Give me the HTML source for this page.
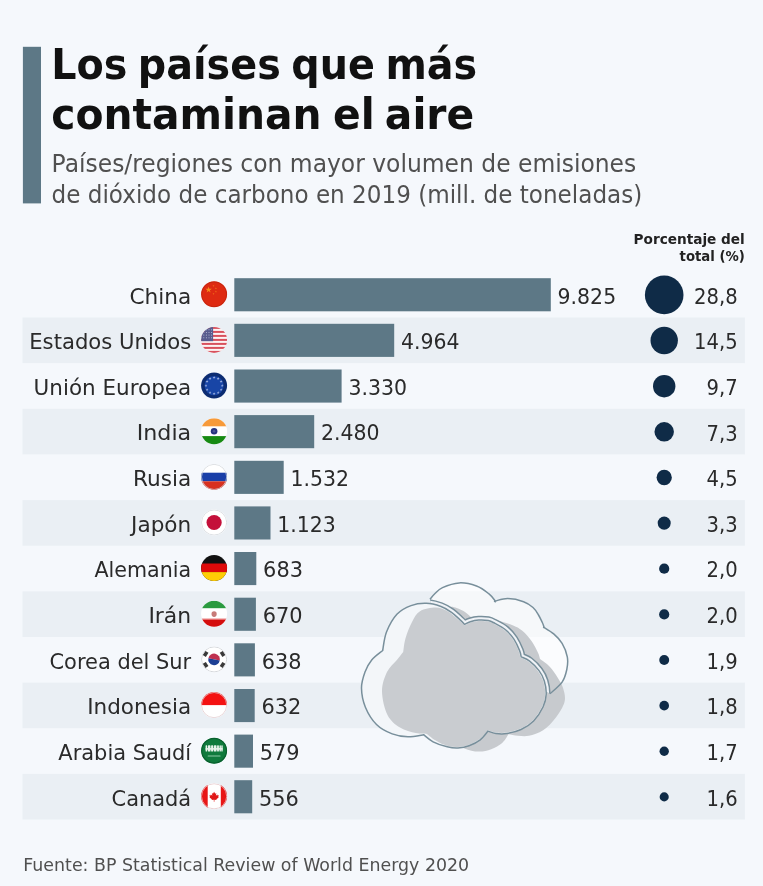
<!DOCTYPE html>
<html lang="es">
<head>
<meta charset="utf-8">
<title>Los países que más contaminan el aire</title>
<style>html,body{margin:0;padding:0;background:#f5f8fc;overflow:hidden}svg{display:block}</style>
</head>
<body>
<svg width="763" height="886" viewBox="0 0 763 886" font-family="'DejaVu Sans', 'Liberation Sans', sans-serif">
<defs><clipPath id="fc"><circle r="13"/></clipPath></defs><rect width="763" height="886" fill="#f5f8fc"/>
<rect x="22.5" y="317.5" width="722.4" height="45.6" fill="#eaeff4"/>
<rect x="22.5" y="408.8" width="722.4" height="45.6" fill="#eaeff4"/>
<rect x="22.5" y="500.1" width="722.4" height="45.6" fill="#eaeff4"/>
<rect x="22.5" y="591.4" width="722.4" height="45.6" fill="#eaeff4"/>
<rect x="22.5" y="682.6" width="722.4" height="45.6" fill="#eaeff4"/>
<rect x="22.5" y="773.9" width="722.4" height="45.6" fill="#eaeff4"/>
<rect x="22.9" y="46.8" width="18.1" height="156.6" fill="#5d7886"/>
<text transform="translate(51.2,79.3) scale(1.0255,1)" font-size="43" font-weight="bold" fill="#111" font-family="'DejaVu Sans Condensed', 'Liberation Sans', sans-serif">Los <tspan dx="-3.2">países</tspan> <tspan dx="-3.2">que</tspan> <tspan dx="-3.2">más</tspan></text>
<text transform="translate(51.2,129.3) scale(1.055,1)" font-size="43" font-weight="bold" fill="#111" font-family="'DejaVu Sans Condensed', 'Liberation Sans', sans-serif">contaminan <tspan dx="-2.6">el</tspan> <tspan dx="-3.9">aire</tspan></text>
<text transform="translate(51.6,172) scale(0.9764,1)" font-size="24" text-anchor="start" font-weight="normal" fill="#505050">Países/regiones con mayor volumen de emisiones</text>
<text transform="translate(51.6,202.9) scale(0.9622,1)" font-size="24" text-anchor="start" font-weight="normal" fill="#505050">de dióxido de carbono en 2019 (mill. de toneladas)</text>
<text transform="translate(744.8,243.8) scale(1.04,1)" font-size="14.6" text-anchor="end" font-weight="bold" fill="#222" font-family="'DejaVu Sans Condensed', 'Liberation Sans', sans-serif">Porcentaje del</text>
<text transform="translate(744.8,261.1) scale(1.01,1)" font-size="14.6" text-anchor="end" font-weight="bold" fill="#222" font-family="'DejaVu Sans Condensed', 'Liberation Sans', sans-serif">total (%)</text>
<g>
<clipPath id="cb"><path d="M430.0,599.3C430.8,598.3 432.9,595.5 435.0,593.5C437.1,591.5 438.5,589.4 442.5,587.6C446.5,585.8 453.5,583.2 459.2,582.9C464.9,582.6 471.5,584.2 476.5,586.0C481.5,587.8 485.9,591.4 489.0,593.9C492.1,596.4 494.2,599.8 495.3,601.0C497.4,600.6 503.2,598.5 507.9,598.6C512.6,598.7 519.4,600.2 523.6,601.7C527.8,603.2 530.5,605.3 533.0,607.5C535.5,609.7 537.0,612.5 538.5,615.0C540.0,617.5 541.2,620.2 542.2,622.3C543.2,624.4 543.9,626.7 544.3,627.6C545.9,628.6 550.7,631.3 553.7,633.9C556.7,636.5 559.8,639.5 562.1,643.3C564.4,647.1 566.5,652.5 567.3,656.9C568.1,661.3 567.7,665.3 566.8,669.5C565.9,673.7 564.9,678.1 562.1,682.1C559.3,686.1 552.0,691.8 550.0,693.8C548.3,693.3 548.3,691.6 540.0,691.0C531.7,690.4 515.0,696.0 500.0,690.0C485.0,684.0 461.2,667.0 450.0,655.0C438.8,643.0 436.3,627.3 433.0,618.0C429.7,608.7 430.5,602.4 430.0,599.3Z"/></clipPath>
<path d="M430.0,599.3C430.8,598.3 432.9,595.5 435.0,593.5C437.1,591.5 438.5,589.4 442.5,587.6C446.5,585.8 453.5,583.2 459.2,582.9C464.9,582.6 471.5,584.2 476.5,586.0C481.5,587.8 485.9,591.4 489.0,593.9C492.1,596.4 494.2,599.8 495.3,601.0C497.4,600.6 503.2,598.5 507.9,598.6C512.6,598.7 519.4,600.2 523.6,601.7C527.8,603.2 530.5,605.3 533.0,607.5C535.5,609.7 537.0,612.5 538.5,615.0C540.0,617.5 541.2,620.2 542.2,622.3C543.2,624.4 543.9,626.7 544.3,627.6C545.9,628.6 550.7,631.3 553.7,633.9C556.7,636.5 559.8,639.5 562.1,643.3C564.4,647.1 566.5,652.5 567.3,656.9C568.1,661.3 567.7,665.3 566.8,669.5C565.9,673.7 564.9,678.1 562.1,682.1C559.3,686.1 552.0,691.8 550.0,693.8C548.3,693.3 548.3,691.6 540.0,691.0C531.7,690.4 515.0,696.0 500.0,690.0C485.0,684.0 461.2,667.0 450.0,655.0C438.8,643.0 436.3,627.3 433.0,618.0C429.7,608.7 430.5,602.4 430.0,599.3Z" fill="#fff" fill-opacity=".55"/>
<path d="M444.0,612.0C445.0,611.2 447.9,607.7 450.0,607.0C452.1,606.3 454.2,607.2 456.7,608.0C459.2,608.8 462.5,610.4 465.0,612.0C467.5,613.6 470.4,616.6 471.5,617.5C474.6,617.8 483.5,617.9 490.0,619.0C496.5,620.1 505.3,622.4 510.7,624.4C516.1,626.4 518.8,627.9 522.3,630.7C525.8,633.5 529.1,637.5 531.7,641.2C534.3,644.9 536.6,649.7 538.0,652.7C539.4,655.7 539.7,658.0 540.0,659.0C541.6,660.2 546.5,663.2 549.5,666.4C552.5,669.5 555.6,674.2 557.9,677.9C560.2,681.6 562.1,684.4 563.2,688.4C564.3,692.4 565.8,697.1 564.5,702.0C563.2,706.9 559.3,713.0 555.7,717.7C552.1,722.4 547.6,727.3 543.1,730.3C538.6,733.3 533.1,734.9 528.9,735.8C524.7,736.7 521.3,736.0 517.9,735.8C514.5,735.5 510.1,734.5 508.5,734.3C507.4,735.7 505.1,740.4 502.2,742.9C499.3,745.4 495.1,747.8 491.2,749.2C487.3,750.7 483.1,751.7 478.6,751.6C474.1,751.5 468.8,750.3 464.4,748.4C460.0,746.5 454.1,741.4 452.0,740.0C450.0,730.0 441.3,701.3 440.0,680.0C438.7,658.7 443.3,623.3 444.0,612.0Z" fill="#c7cace"/>
<path d="M430.0,599.3C430.8,598.3 432.9,595.5 435.0,593.5C437.1,591.5 438.5,589.4 442.5,587.6C446.5,585.8 453.5,583.2 459.2,582.9C464.9,582.6 471.5,584.2 476.5,586.0C481.5,587.8 485.9,591.4 489.0,593.9C492.1,596.4 494.2,599.8 495.3,601.0C496.4,602.2 493.2,601.4 495.3,601.0C497.4,600.6 503.2,598.5 507.9,598.6C512.6,598.7 519.4,600.2 523.6,601.7C527.8,603.2 530.5,605.3 533.0,607.5C535.5,609.7 537.0,612.5 538.5,615.0C540.0,617.5 541.2,620.2 542.2,622.3C543.2,624.4 543.9,626.7 544.3,627.6C544.6,628.5 542.7,626.6 544.3,627.6C545.9,628.6 550.7,631.3 553.7,633.9C556.7,636.5 559.8,639.5 562.1,643.3C564.4,647.1 566.5,652.5 567.3,656.9C568.1,661.3 567.7,665.3 566.8,669.5C565.9,673.7 564.9,678.1 562.1,682.1C559.3,686.1 552.0,691.8 550.0,693.8" fill="none" stroke="#788f9b" stroke-width="1.5"/>
<g clip-path="url(#cb)"><path d="M382.7,650.5C383.3,647.4 384.1,638.0 386.5,632.0C388.9,626.0 392.8,618.7 396.9,614.3C401.0,609.9 406.1,607.4 411.0,605.6C415.9,603.8 421.3,603.1 426.3,603.3C431.3,603.4 436.8,605.0 441.0,606.5C445.2,608.0 448.4,610.1 451.5,612.3C454.6,614.5 457.6,617.6 459.8,619.6C462.0,621.6 463.8,623.5 464.6,624.3C465.6,623.9 468.0,622.4 470.3,621.7C472.6,621.0 475.7,620.3 478.7,620.1C481.7,619.9 485.5,620.1 488.2,620.6C490.9,621.1 492.1,621.9 495.0,623.4C497.9,624.9 502.4,627.1 505.5,629.7C508.6,632.3 511.5,635.6 513.9,639.1C516.2,642.6 518.4,647.6 519.6,650.6C520.8,653.6 520.9,655.9 521.2,656.9C522.6,657.6 526.6,658.8 529.6,661.1C532.6,663.4 536.5,667.3 539.0,670.6C541.5,673.9 543.1,677.1 544.3,681.0C545.5,684.9 546.4,689.9 546.2,694.2C546.0,698.5 545.2,702.2 543.1,706.7C541.0,711.2 537.3,717.1 533.6,720.9C529.9,724.7 525.5,727.4 521.0,729.5C516.5,731.6 511.1,732.8 506.9,733.5C502.7,734.2 499.0,733.9 495.9,733.5C492.8,733.1 489.3,731.5 488.0,731.1C486.7,732.5 483.4,737.3 480.2,739.8C477.0,742.2 472.7,744.4 469.0,745.8C465.3,747.2 461.6,747.8 458.0,748.0C454.4,748.2 451.3,747.8 447.2,746.8C443.1,745.8 437.0,743.8 433.1,741.8C429.2,739.8 425.2,735.9 423.6,734.7C421.0,735.1 413.1,736.9 407.9,736.8C402.7,736.7 397.4,735.9 392.2,733.9C387.0,731.9 381.0,729.0 376.5,724.5C372.0,720.0 367.9,713.2 365.4,707.2C362.9,701.2 361.6,694.2 361.5,688.3C361.4,682.4 363.3,676.7 365.0,672.0C366.7,667.3 368.8,663.6 371.7,660.0C374.6,656.4 380.9,652.1 382.7,650.5Z" fill="none" stroke="#788f9b" stroke-width="8.7"/><path d="M382.7,650.5C383.3,647.4 384.1,638.0 386.5,632.0C388.9,626.0 392.8,618.7 396.9,614.3C401.0,609.9 406.1,607.4 411.0,605.6C415.9,603.8 421.3,603.1 426.3,603.3C431.3,603.4 436.8,605.0 441.0,606.5C445.2,608.0 448.4,610.1 451.5,612.3C454.6,614.5 457.6,617.6 459.8,619.6C462.0,621.6 463.8,623.5 464.6,624.3C465.6,623.9 468.0,622.4 470.3,621.7C472.6,621.0 475.7,620.3 478.7,620.1C481.7,619.9 485.5,620.1 488.2,620.6C490.9,621.1 492.1,621.9 495.0,623.4C497.9,624.9 502.4,627.1 505.5,629.7C508.6,632.3 511.5,635.6 513.9,639.1C516.2,642.6 518.4,647.6 519.6,650.6C520.8,653.6 520.9,655.9 521.2,656.9C522.6,657.6 526.6,658.8 529.6,661.1C532.6,663.4 536.5,667.3 539.0,670.6C541.5,673.9 543.1,677.1 544.3,681.0C545.5,684.9 546.4,689.9 546.2,694.2C546.0,698.5 545.2,702.2 543.1,706.7C541.0,711.2 537.3,717.1 533.6,720.9C529.9,724.7 525.5,727.4 521.0,729.5C516.5,731.6 511.1,732.8 506.9,733.5C502.7,734.2 499.0,733.9 495.9,733.5C492.8,733.1 489.3,731.5 488.0,731.1C486.7,732.5 483.4,737.3 480.2,739.8C477.0,742.2 472.7,744.4 469.0,745.8C465.3,747.2 461.6,747.8 458.0,748.0C454.4,748.2 451.3,747.8 447.2,746.8C443.1,745.8 437.0,743.8 433.1,741.8C429.2,739.8 425.2,735.9 423.6,734.7C421.0,735.1 413.1,736.9 407.9,736.8C402.7,736.7 397.4,735.9 392.2,733.9C387.0,731.9 381.0,729.0 376.5,724.5C372.0,720.0 367.9,713.2 365.4,707.2C362.9,701.2 361.6,694.2 361.5,688.3C361.4,682.4 363.3,676.7 365.0,672.0C366.7,667.3 368.8,663.6 371.7,660.0C374.6,656.4 380.9,652.1 382.7,650.5Z" fill="none" stroke="#f0f3f7" stroke-width="5.7"/></g>
<path d="M382.7,650.5C383.3,647.4 384.1,638.0 386.5,632.0C388.9,626.0 392.8,618.7 396.9,614.3C401.0,609.9 406.1,607.4 411.0,605.6C415.9,603.8 421.3,603.1 426.3,603.3C431.3,603.4 436.8,605.0 441.0,606.5C445.2,608.0 448.4,610.1 451.5,612.3C454.6,614.5 457.6,617.6 459.8,619.6C462.0,621.6 463.8,623.5 464.6,624.3C465.6,623.9 468.0,622.4 470.3,621.7C472.6,621.0 475.7,620.3 478.7,620.1C481.7,619.9 485.5,620.1 488.2,620.6C490.9,621.1 492.1,621.9 495.0,623.4C497.9,624.9 502.4,627.1 505.5,629.7C508.6,632.3 511.5,635.6 513.9,639.1C516.2,642.6 518.4,647.6 519.6,650.6C520.8,653.6 520.9,655.9 521.2,656.9C522.6,657.6 526.6,658.8 529.6,661.1C532.6,663.4 536.5,667.3 539.0,670.6C541.5,673.9 543.1,677.1 544.3,681.0C545.5,684.9 546.4,689.9 546.2,694.2C546.0,698.5 545.2,702.2 543.1,706.7C541.0,711.2 537.3,717.1 533.6,720.9C529.9,724.7 525.5,727.4 521.0,729.5C516.5,731.6 511.1,732.8 506.9,733.5C502.7,734.2 499.0,733.9 495.9,733.5C492.8,733.1 489.3,731.5 488.0,731.1C486.7,732.5 483.4,737.3 480.2,739.8C477.0,742.2 472.7,744.4 469.0,745.8C465.3,747.2 461.6,747.8 458.0,748.0C454.4,748.2 451.3,747.8 447.2,746.8C443.1,745.8 437.0,743.8 433.1,741.8C429.2,739.8 425.2,735.9 423.6,734.7C421.0,735.1 413.1,736.9 407.9,736.8C402.7,736.7 397.4,735.9 392.2,733.9C387.0,731.9 381.0,729.0 376.5,724.5C372.0,720.0 367.9,713.2 365.4,707.2C362.9,701.2 361.6,694.2 361.5,688.3C361.4,682.4 363.3,676.7 365.0,672.0C366.7,667.3 368.8,663.6 371.7,660.0C374.6,656.4 380.9,652.1 382.7,650.5Z" fill="#f3f6f9"/>
<path d="M403.2,652.1C403.6,649.7 404.1,642.9 405.6,637.9C407.1,632.9 409.6,626.5 412.0,622.0C414.4,617.5 416.1,613.6 420.0,611.2C423.9,608.8 431.0,607.5 435.7,607.5C440.4,607.5 444.3,609.5 448.0,611.5C451.7,613.5 455.2,617.2 458.0,619.5C460.8,621.8 463.5,624.3 464.6,625.3C465.6,624.9 468.0,623.4 470.3,622.7C472.6,622.0 475.7,621.3 478.7,621.1C481.7,620.9 485.5,621.1 488.2,621.6C490.9,622.1 492.2,622.9 495.0,624.4C497.8,625.9 502.0,627.9 505.0,630.4C508.0,632.9 510.7,636.2 513.0,639.6C515.3,643.0 517.4,648.0 518.6,651.0C519.8,654.0 520.1,656.4 520.4,657.5C521.8,658.2 526.1,659.7 529.0,662.0C531.9,664.3 535.6,668.0 538.0,671.3C540.4,674.5 542.1,677.7 543.3,681.5C544.5,685.3 545.4,690.1 545.2,694.2C545.0,698.3 544.2,702.0 542.2,706.3C540.2,710.6 536.6,716.5 533.0,720.2C529.4,723.9 524.9,726.6 520.5,728.6C516.1,730.6 511.0,731.9 506.9,732.5C502.8,733.1 499.0,732.9 495.9,732.5C492.8,732.1 489.3,730.6 488.0,730.2C486.7,731.6 483.2,736.4 480.0,738.8C476.8,741.2 472.7,743.4 469.0,744.8C465.3,746.2 461.6,746.8 458.0,747.0C454.4,747.2 450.8,746.8 447.2,745.8C443.6,744.8 439.6,742.8 436.2,740.8C432.8,738.8 428.4,735.0 426.8,733.9C425.0,733.8 420.3,734.1 415.8,733.1C411.3,732.1 404.7,730.6 400.0,727.6C395.3,724.6 390.5,721.0 387.5,715.0C384.5,709.0 382.1,698.7 382.0,691.5C381.9,684.3 384.5,677.2 387.0,672.0C389.5,666.8 394.2,663.3 396.9,660.0C399.6,656.7 402.1,653.4 403.2,652.1Z" fill="#c9ccd0"/>
<path d="M382.7,650.5C383.3,647.4 384.1,638.0 386.5,632.0C388.9,626.0 392.8,618.7 396.9,614.3C401.0,609.9 406.1,607.4 411.0,605.6C415.9,603.8 421.3,603.1 426.3,603.3C431.3,603.4 436.8,605.0 441.0,606.5C445.2,608.0 448.4,610.1 451.5,612.3C454.6,614.5 457.6,617.6 459.8,619.6C462.0,621.6 463.8,623.5 464.6,624.3C465.6,623.9 468.0,622.4 470.3,621.7C472.6,621.0 475.7,620.3 478.7,620.1C481.7,619.9 485.5,620.1 488.2,620.6C490.9,621.1 492.1,621.9 495.0,623.4C497.9,624.9 502.4,627.1 505.5,629.7C508.6,632.3 511.5,635.6 513.9,639.1C516.2,642.6 518.4,647.6 519.6,650.6C520.8,653.6 520.9,655.9 521.2,656.9C522.6,657.6 526.6,658.8 529.6,661.1C532.6,663.4 536.5,667.3 539.0,670.6C541.5,673.9 543.1,677.1 544.3,681.0C545.5,684.9 546.4,689.9 546.2,694.2C546.0,698.5 545.2,702.2 543.1,706.7C541.0,711.2 537.3,717.1 533.6,720.9C529.9,724.7 525.5,727.4 521.0,729.5C516.5,731.6 511.1,732.8 506.9,733.5C502.7,734.2 499.0,733.9 495.9,733.5C492.8,733.1 489.3,731.5 488.0,731.1C486.7,732.5 483.4,737.3 480.2,739.8C477.0,742.2 472.7,744.4 469.0,745.8C465.3,747.2 461.6,747.8 458.0,748.0C454.4,748.2 451.3,747.8 447.2,746.8C443.1,745.8 437.0,743.8 433.1,741.8C429.2,739.8 425.2,735.9 423.6,734.7C421.0,735.1 413.1,736.9 407.9,736.8C402.7,736.7 397.4,735.9 392.2,733.9C387.0,731.9 381.0,729.0 376.5,724.5C372.0,720.0 367.9,713.2 365.4,707.2C362.9,701.2 361.6,694.2 361.5,688.3C361.4,682.4 363.3,676.7 365.0,672.0C366.7,667.3 368.8,663.6 371.7,660.0C374.6,656.4 380.9,652.1 382.7,650.5Z" fill="none" stroke="#788f9b" stroke-width="1.5" stroke-linejoin="round"/>
</g>
<rect x="234.3" y="278.2" width="316.5" height="33.1" fill="#5d7886"/>
<text transform="translate(191.2,303.5) scale(0.983,1)" font-size="22" text-anchor="end" font-weight="normal" fill="#2a2a2a">China</text>
<text transform="translate(557.6,303.5) scale(0.93,1)" font-size="22" text-anchor="start" font-weight="normal" fill="#2a2a2a">9.825</text>
<text transform="translate(737.6,303.6) scale(0.89,1)" font-size="22" text-anchor="end" font-weight="normal" fill="#2a2a2a">28,8</text>
<circle cx="664.2" cy="294.9" r="19.30" fill="#0f2b47"/>
<g transform="translate(214.1,294.3)" clip-path="url(#fc)"><rect x="-13.5" y="-13.5" width="27" height="27" fill="#de2a12"/><polygon points="-5.50,-7.90 -4.74,-5.55 -2.27,-5.55 -4.26,-4.10 -3.50,-1.75 -5.50,-3.20 -7.50,-1.75 -6.74,-4.10 -8.73,-5.55 -6.26,-5.55" fill="#f58a1c"/><polygon points="-0.60,-9.50 -0.35,-8.74 0.45,-8.74 -0.20,-8.27 0.05,-7.51 -0.60,-7.98 -1.25,-7.51 -1.00,-8.27 -1.65,-8.74 -0.85,-8.74" fill="#f0701a"/><polygon points="1.80,-7.10 2.05,-6.34 2.85,-6.34 2.20,-5.87 2.45,-5.11 1.80,-5.58 1.15,-5.11 1.40,-5.87 0.75,-6.34 1.55,-6.34" fill="#f0701a"/><polygon points="1.80,-3.70 2.05,-2.94 2.85,-2.94 2.20,-2.47 2.45,-1.71 1.80,-2.18 1.15,-1.71 1.40,-2.47 0.75,-2.94 1.55,-2.94" fill="#f0701a"/><polygon points="-0.60,-1.50 -0.35,-0.74 0.45,-0.74 -0.20,-0.27 0.05,0.49 -0.60,0.02 -1.25,0.49 -1.00,-0.27 -1.65,-0.74 -0.85,-0.74" fill="#f0701a"/><circle r="12.5" fill="none" stroke="#b3240f" stroke-width="1" stroke-opacity=".6"/></g>
<rect x="234.3" y="323.8" width="159.9" height="33.1" fill="#5d7886"/>
<text transform="translate(191.2,349.1) scale(0.962,1)" font-size="22" text-anchor="end" font-weight="normal" fill="#2a2a2a">Estados Unidos</text>
<text transform="translate(401.0,349.1) scale(0.93,1)" font-size="22" text-anchor="start" font-weight="normal" fill="#2a2a2a">4.964</text>
<text transform="translate(737.6,349.2) scale(0.89,1)" font-size="22" text-anchor="end" font-weight="normal" fill="#2a2a2a">14,5</text>
<circle cx="664.2" cy="340.5" r="13.69" fill="#0f2b47"/>
<g transform="translate(214.1,339.9)" clip-path="url(#fc)"><rect x="-13.5" y="-13.5" width="27" height="27" fill="#fdf3f3"/><rect x="-13" y="-13.00" width="26" height="2.00" fill="#d8505c"/><rect x="-13" y="-9.00" width="26" height="2.00" fill="#d8505c"/><rect x="-13" y="-5.00" width="26" height="2.00" fill="#d8505c"/><rect x="-13" y="-1.00" width="26" height="2.00" fill="#d8505c"/><rect x="-13" y="3.00" width="26" height="2.00" fill="#d8505c"/><rect x="-13" y="7.00" width="26" height="2.00" fill="#d8505c"/><rect x="-13" y="11.00" width="26" height="2.00" fill="#d8505c"/><rect x="-13" y="-13" width="12" height="14.30" fill="#585c8e"/><circle cx="-10.3" cy="-10.2" r=".5" fill="#c9cbe0"/><circle cx="-7.7" cy="-10.2" r=".5" fill="#c9cbe0"/><circle cx="-5.1" cy="-10.2" r=".5" fill="#c9cbe0"/><circle cx="-2.5" cy="-10.2" r=".5" fill="#c9cbe0"/><circle cx="-10.3" cy="-7.5" r=".5" fill="#c9cbe0"/><circle cx="-7.7" cy="-7.5" r=".5" fill="#c9cbe0"/><circle cx="-5.1" cy="-7.5" r=".5" fill="#c9cbe0"/><circle cx="-2.5" cy="-7.5" r=".5" fill="#c9cbe0"/><circle cx="-10.3" cy="-4.8" r=".5" fill="#c9cbe0"/><circle cx="-7.7" cy="-4.8" r=".5" fill="#c9cbe0"/><circle cx="-5.1" cy="-4.8" r=".5" fill="#c9cbe0"/><circle cx="-2.5" cy="-4.8" r=".5" fill="#c9cbe0"/><circle cx="-10.3" cy="-2.1" r=".5" fill="#c9cbe0"/><circle cx="-7.7" cy="-2.1" r=".5" fill="#c9cbe0"/><circle cx="-5.1" cy="-2.1" r=".5" fill="#c9cbe0"/><circle cx="-2.5" cy="-2.1" r=".5" fill="#c9cbe0"/></g>
<rect x="234.3" y="369.5" width="107.3" height="33.1" fill="#5d7886"/>
<text transform="translate(191.2,394.8) scale(0.977,1)" font-size="22" text-anchor="end" font-weight="normal" fill="#2a2a2a">Unión Europea</text>
<text transform="translate(348.4,394.8) scale(0.93,1)" font-size="22" text-anchor="start" font-weight="normal" fill="#2a2a2a">3.330</text>
<text transform="translate(737.6,394.9) scale(0.89,1)" font-size="22" text-anchor="end" font-weight="normal" fill="#2a2a2a">9,7</text>
<circle cx="664.2" cy="386.2" r="11.20" fill="#0f2b47"/>
<g transform="translate(214.1,385.6)" clip-path="url(#fc)"><rect x="-13.5" y="-13.5" width="27" height="27" fill="#0c2c72"/><circle r="9.6" fill="#1845a6"/><polygon points="8.10,-1.50 8.44,-0.46 9.53,-0.46 8.64,0.18 8.98,1.21 8.10,0.57 7.22,1.21 7.56,0.18 6.67,-0.46 7.76,-0.46" fill="#a9b9e4"/><polygon points="7.01,2.55 7.35,3.59 8.44,3.59 7.56,4.23 7.90,5.26 7.01,4.62 6.13,5.26 6.47,4.23 5.59,3.59 6.68,3.59" fill="#a9b9e4"/><polygon points="4.05,5.51 4.39,6.55 5.48,6.55 4.59,7.19 4.93,8.23 4.05,7.59 3.17,8.23 3.51,7.19 2.62,6.55 3.71,6.55" fill="#a9b9e4"/><polygon points="0.00,6.60 0.34,7.64 1.43,7.64 0.54,8.28 0.88,9.31 0.00,8.67 -0.88,9.31 -0.54,8.28 -1.43,7.64 -0.34,7.64" fill="#a9b9e4"/><polygon points="-4.05,5.51 -3.71,6.55 -2.62,6.55 -3.51,7.19 -3.17,8.23 -4.05,7.59 -4.93,8.23 -4.59,7.19 -5.48,6.55 -4.39,6.55" fill="#a9b9e4"/><polygon points="-7.01,2.55 -6.68,3.59 -5.59,3.59 -6.47,4.23 -6.13,5.26 -7.01,4.62 -7.90,5.26 -7.56,4.23 -8.44,3.59 -7.35,3.59" fill="#a9b9e4"/><polygon points="-8.10,-1.50 -7.76,-0.46 -6.67,-0.46 -7.56,0.18 -7.22,1.21 -8.10,0.57 -8.98,1.21 -8.64,0.18 -9.53,-0.46 -8.44,-0.46" fill="#a9b9e4"/><polygon points="-7.01,-5.55 -6.68,-4.51 -5.59,-4.51 -6.47,-3.87 -6.13,-2.84 -7.01,-3.48 -7.90,-2.84 -7.56,-3.87 -8.44,-4.51 -7.35,-4.51" fill="#a9b9e4"/><polygon points="-4.05,-8.51 -3.71,-7.48 -2.62,-7.48 -3.51,-6.84 -3.17,-5.80 -4.05,-6.44 -4.93,-5.80 -4.59,-6.84 -5.48,-7.48 -4.39,-7.48" fill="#a9b9e4"/><polygon points="-0.00,-9.60 0.34,-8.56 1.43,-8.56 0.54,-7.92 0.88,-6.89 -0.00,-7.53 -0.88,-6.89 -0.54,-7.92 -1.43,-8.56 -0.34,-8.56" fill="#a9b9e4"/><polygon points="4.05,-8.51 4.39,-7.48 5.48,-7.48 4.59,-6.84 4.93,-5.80 4.05,-6.44 3.17,-5.80 3.51,-6.84 2.62,-7.48 3.71,-7.48" fill="#a9b9e4"/><polygon points="7.01,-5.55 7.35,-4.51 8.44,-4.51 7.56,-3.87 7.90,-2.84 7.01,-3.48 6.13,-2.84 6.47,-3.87 5.59,-4.51 6.68,-4.51" fill="#a9b9e4"/></g>
<rect x="234.3" y="415.1" width="79.9" height="33.1" fill="#5d7886"/>
<text transform="translate(191.2,440.4) scale(1.009,1)" font-size="22" text-anchor="end" font-weight="normal" fill="#2a2a2a">India</text>
<text transform="translate(321.0,440.4) scale(0.93,1)" font-size="22" text-anchor="start" font-weight="normal" fill="#2a2a2a">2.480</text>
<text transform="translate(737.6,440.5) scale(0.89,1)" font-size="22" text-anchor="end" font-weight="normal" fill="#2a2a2a">7,3</text>
<circle cx="664.2" cy="431.8" r="9.72" fill="#0f2b47"/>
<g transform="translate(214.1,431.2)" clip-path="url(#fc)"><rect x="-13.5" y="-13.5" width="27" height="27" fill="#fff"/><rect x="-13" y="-13" width="26" height="8.1" fill="#f79a3a"/><rect x="-13" y="4.9" width="26" height="9" fill="#178a12"/><circle cy="0" r="3.3" fill="#27337f"/><circle r="1.3" fill="#4a5698"/></g>
<rect x="234.3" y="460.8" width="49.4" height="33.1" fill="#5d7886"/>
<text transform="translate(191.2,486.1) scale(0.982,1)" font-size="22" text-anchor="end" font-weight="normal" fill="#2a2a2a">Rusia</text>
<text transform="translate(290.5,486.1) scale(0.93,1)" font-size="22" text-anchor="start" font-weight="normal" fill="#2a2a2a">1.532</text>
<text transform="translate(737.6,486.2) scale(0.89,1)" font-size="22" text-anchor="end" font-weight="normal" fill="#2a2a2a">4,5</text>
<circle cx="664.2" cy="477.5" r="7.63" fill="#0f2b47"/>
<g transform="translate(214.1,476.9)" clip-path="url(#fc)"><rect x="-13.5" y="-13.5" width="27" height="27" fill="#fff"/><rect x="-13" y="-4.2" width="26" height="8.6" fill="#1a3fa8"/><rect x="-13" y="4.4" width="26" height="9" fill="#d8301f"/><circle r="12.6" fill="none" stroke="#cfd3d8" stroke-width=".8"/></g>
<rect x="234.3" y="506.4" width="36.2" height="33.1" fill="#5d7886"/>
<text transform="translate(191.2,531.7) scale(0.981,1)" font-size="22" text-anchor="end" font-weight="normal" fill="#2a2a2a">Japón</text>
<text transform="translate(277.3,531.7) scale(0.93,1)" font-size="22" text-anchor="start" font-weight="normal" fill="#2a2a2a">1.123</text>
<text transform="translate(737.6,531.8) scale(0.89,1)" font-size="22" text-anchor="end" font-weight="normal" fill="#2a2a2a">3,3</text>
<circle cx="664.2" cy="523.1" r="6.53" fill="#0f2b47"/>
<g transform="translate(214.1,522.5)" clip-path="url(#fc)"><rect x="-13.5" y="-13.5" width="27" height="27" fill="#fff"/><circle r="7.6" fill="#c4103a"/><circle r="12.6" fill="none" stroke="#d3d7dc" stroke-width=".8"/></g>
<rect x="234.3" y="552.0" width="22.0" height="33.1" fill="#5d7886"/>
<text transform="translate(191.2,577.3) scale(0.939,1)" font-size="22" text-anchor="end" font-weight="normal" fill="#2a2a2a">Alemania</text>
<text transform="translate(263.1,577.3) scale(0.95,1)" font-size="22" text-anchor="start" font-weight="normal" fill="#2a2a2a">683</text>
<text transform="translate(737.6,577.4) scale(0.89,1)" font-size="22" text-anchor="end" font-weight="normal" fill="#2a2a2a">2,0</text>
<circle cx="664.2" cy="568.7" r="5.09" fill="#0f2b47"/>
<g transform="translate(214.1,568.1)" clip-path="url(#fc)"><rect x="-13.5" y="-13.5" width="27" height="27" fill="#111"/><rect x="-13" y="-4.6" width="26" height="8.8" fill="#de0a0a"/><rect x="-13" y="4.0" width="26" height="10" fill="#ffcd05"/></g>
<rect x="234.3" y="597.7" width="21.6" height="33.1" fill="#5d7886"/>
<text transform="translate(191.2,623.0) scale(0.997,1)" font-size="22" text-anchor="end" font-weight="normal" fill="#2a2a2a">Irán</text>
<text transform="translate(262.7,623.0) scale(0.95,1)" font-size="22" text-anchor="start" font-weight="normal" fill="#2a2a2a">670</text>
<text transform="translate(737.6,623.1) scale(0.89,1)" font-size="22" text-anchor="end" font-weight="normal" fill="#2a2a2a">2,0</text>
<circle cx="664.2" cy="614.4" r="5.09" fill="#0f2b47"/>
<g transform="translate(214.1,613.8)" clip-path="url(#fc)"><rect x="-13.5" y="-13.5" width="27" height="27" fill="#fff"/><rect x="-13" y="-13" width="26" height="7.4" fill="#2a9a3f"/><rect x="-13" y="4.6" width="26" height="1.4" fill="#ef9a9a"/><rect x="-13" y="5.8" width="26" height="9" fill="#d40d0d"/><ellipse cx="0" cy=".3" rx="2.6" ry="2.8" fill="#c77b78"/></g>
<rect x="234.3" y="643.3" width="20.6" height="33.1" fill="#5d7886"/>
<text transform="translate(191.2,668.6) scale(0.952,1)" font-size="22" text-anchor="end" font-weight="normal" fill="#2a2a2a">Corea del Sur</text>
<text transform="translate(261.7,668.6) scale(0.95,1)" font-size="22" text-anchor="start" font-weight="normal" fill="#2a2a2a">638</text>
<text transform="translate(737.6,668.7) scale(0.89,1)" font-size="22" text-anchor="end" font-weight="normal" fill="#2a2a2a">1,9</text>
<circle cx="664.2" cy="660.0" r="4.96" fill="#0f2b47"/>
<g transform="translate(214.1,659.4)" clip-path="url(#fc)"><rect x="-13.5" y="-13.5" width="27" height="27" fill="#fff"/><path d="M-5.6,0A5.6,5.6 0 0 1 5.6,0Z" fill="#c03250" transform="rotate(12) scale(1.04)"/><path d="M-5.6,0A5.6,5.6 0 0 0 5.6,0Z" fill="#1d3f94" transform="rotate(12) scale(1.04)"/><g transform="rotate(33)"><rect x="8.3" y="-2.4" width="3.6" height="4.8" fill="#3a3a3a"/></g><g transform="rotate(147)"><rect x="8.3" y="-2.4" width="3.6" height="4.8" fill="#3a3a3a"/></g><g transform="rotate(213)"><rect x="8.3" y="-2.4" width="3.6" height="4.8" fill="#3a3a3a"/></g><g transform="rotate(327)"><rect x="8.3" y="-2.4" width="3.6" height="4.8" fill="#3a3a3a"/></g><circle r="12.6" fill="none" stroke="#c9cdd2" stroke-width=".8"/></g>
<rect x="234.3" y="689.0" width="20.4" height="33.1" fill="#5d7886"/>
<text transform="translate(191.2,714.3) scale(0.978,1)" font-size="22" text-anchor="end" font-weight="normal" fill="#2a2a2a">Indonesia</text>
<text transform="translate(261.5,714.3) scale(0.95,1)" font-size="22" text-anchor="start" font-weight="normal" fill="#2a2a2a">632</text>
<text transform="translate(737.6,714.4) scale(0.89,1)" font-size="22" text-anchor="end" font-weight="normal" fill="#2a2a2a">1,8</text>
<circle cx="664.2" cy="705.7" r="4.83" fill="#0f2b47"/>
<g transform="translate(214.1,705.1)" clip-path="url(#fc)"><rect x="-13.5" y="-13.5" width="27" height="27" fill="#fff"/><rect x="-13" y="-13" width="26" height="13" fill="#f41212"/><circle r="12.6" fill="none" stroke="#e2c9cc" stroke-width=".8"/></g>
<rect x="234.3" y="734.6" width="18.7" height="33.1" fill="#5d7886"/>
<text transform="translate(191.2,759.9) scale(0.952,1)" font-size="22" text-anchor="end" font-weight="normal" fill="#2a2a2a">Arabia Saudí</text>
<text transform="translate(259.8,759.9) scale(0.95,1)" font-size="22" text-anchor="start" font-weight="normal" fill="#2a2a2a">579</text>
<text transform="translate(737.6,760.0) scale(0.89,1)" font-size="22" text-anchor="end" font-weight="normal" fill="#2a2a2a">1,7</text>
<circle cx="664.2" cy="751.3" r="4.69" fill="#0f2b47"/>
<g transform="translate(214.1,750.7)" clip-path="url(#fc)"><rect x="-13.5" y="-13.5" width="27" height="27" fill="#0f7a3c"/><circle r="12.4" fill="none" stroke="#0a5f2e" stroke-width="1.2"/><rect x="-8.5" y="-5.4" width="1.6" height="6.2" rx=".6" fill="#e9f3ec"/><rect x="-6.2" y="-5.4" width="2.6" height="6.2" rx=".6" fill="#e9f3ec"/><rect x="-3" y="-5.4" width="2.2" height="6.2" rx=".6" fill="#e9f3ec"/><rect x="-0.2" y="-5.4" width="2.6" height="6.2" rx=".6" fill="#e9f3ec"/><rect x="3" y="-5.4" width="1.8" height="6.2" rx=".6" fill="#e9f3ec"/><rect x="5.4" y="-5.4" width="1.4" height="6.2" rx=".6" fill="#e9f3ec"/><rect x="7.2" y="-5.4" width="1.4" height="6.2" rx=".6" fill="#e9f3ec"/><rect x="-8.5" y="-2.6" width="17" height="1.6" fill="#e9f3ec"/><rect x="-6.5" y="4.8" width="13" height="1.1" rx=".5" fill="#8cc7a3"/></g>
<rect x="234.3" y="780.2" width="17.9" height="33.1" fill="#5d7886"/>
<text transform="translate(191.2,805.5) scale(0.952,1)" font-size="22" text-anchor="end" font-weight="normal" fill="#2a2a2a">Canadá</text>
<text transform="translate(259.0,805.5) scale(0.95,1)" font-size="22" text-anchor="start" font-weight="normal" fill="#2a2a2a">556</text>
<text transform="translate(737.6,805.6) scale(0.89,1)" font-size="22" text-anchor="end" font-weight="normal" fill="#2a2a2a">1,6</text>
<circle cx="664.2" cy="796.9" r="4.55" fill="#0f2b47"/>
<g transform="translate(214.1,796.3)" clip-path="url(#fc)"><rect x="-13.5" y="-13.5" width="27" height="27" fill="#fff"/><rect x="-13.3" y="-13" width="6.9" height="26" fill="#e81616"/><rect x="6.7" y="-13" width="6.6" height="26" fill="#e81616"/><path d="M0,-4.6L1.1,-2.6L2.2,-3.2L1.8,-0.6L3.2,-1.8L3.5,-0.9L4.8,-1.1L4.1,0.8L4.6,1.2L2.2,3L2.5,3.8L0.3,3.5L0.3,5.4L-0.3,5.4L-0.3,3.5L-2.5,3.8L-2.2,3L-4.6,1.2L-4.1,0.8L-4.8,-1.1L-3.5,-0.9L-3.2,-1.8L-1.8,-0.6L-2.2,-3.2L-1.1,-2.6Z" fill="#e01818"/><circle r="12.6" fill="none" stroke="#e6c4c6" stroke-width=".8"/></g>
<text transform="translate(23.3,870.5) scale(0.9665,1)" font-size="18" text-anchor="start" font-weight="normal" fill="#505050">Fuente: BP Statistical Review of World Energy 2020</text>
</svg>
</body>
</html>
